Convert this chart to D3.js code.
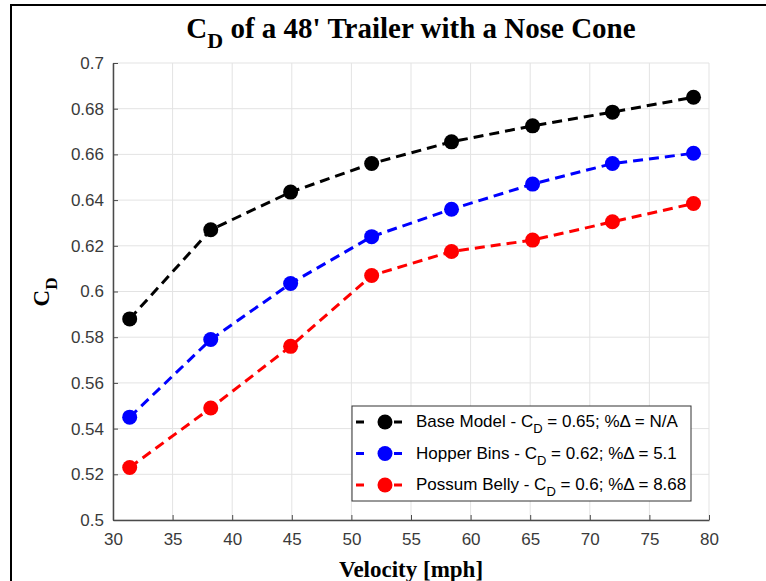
<!DOCTYPE html>
<html><head><meta charset="utf-8">
<script src="https://cdn.jsdelivr.net/npm/d3@7"></script>
<style>body{margin:0;background:#fff;} svg{display:block;}</style>
</head><body>
<script>
const velocity = [31.4, 38.2, 44.9, 51.7, 58.4, 65.2, 71.9, 78.7];
const baseModel = [0.588, 0.627, 0.6435, 0.656, 0.6655, 0.6725, 0.6785, 0.685];
const hopperBins = [0.545, 0.579, 0.6035, 0.624, 0.636, 0.647, 0.656, 0.6605];
const possumBelly = [0.523, 0.549, 0.576, 0.607, 0.6175, 0.6225, 0.6305, 0.6385];
const seriesNames = ["Base Model", "Hopper Bins", "Possum Belly"];
const legendCd = ["0.65", "0.62", "0.6"];
const legendPct = ["N/A", "5.1", "8.68"];
const seriesColors = ["#000000", "#0000ff", "#ff0000"];
const xTicks = [30, 35, 40, 45, 50, 55, 60, 65, 70, 75, 80];
const yTicks = [0.5, 0.52, 0.54, 0.56, 0.58, 0.6, 0.62, 0.64, 0.66, 0.68, 0.7];

const W = 766, H = 581;
const svg = d3.select("body").append("svg").attr("width", W).attr("height", H);
svg.append("rect").attr("width", W).attr("height", H).attr("fill", "#fff");
// figure border
svg.append("path").attr("d", `M11,${H} L11,5 L${W},5`).attr("fill", "none").attr("stroke", "#000").attr("stroke-width", 2);

const L = 113, R = 709, T = 63, B = 520;
const x = d3.scaleLinear().domain([30, 80]).range([L, R]);
const y = d3.scaleLinear().domain([0.5, 0.7]).range([B, T]);

// grid
const g = svg.append("g");
g.selectAll("line.gx").data(xTicks).join("line")
  .attr("x1", d => x(d)).attr("x2", d => x(d)).attr("y1", T).attr("y2", B)
  .attr("stroke", "#e3e3e3").attr("stroke-width", 1);
g.selectAll("line.gy").data(yTicks).join("line")
  .attr("x1", L).attr("x2", R).attr("y1", d => y(d)).attr("y2", d => y(d))
  .attr("stroke", "#e3e3e3").attr("stroke-width", 1);

// axes
const axisColor = "#4a4a4a";
const xAxis = svg.append("g").attr("transform", `translate(0,${B})`)
  .call(d3.axisBottom(x).tickValues(xTicks).tickFormat(d3.format("d")).tickSizeInner(-5).tickSizeOuter(0).tickPadding(13));
const yAxis = svg.append("g").attr("transform", `translate(${L},0)`)
  .call(d3.axisLeft(y).tickValues(yTicks).tickFormat(d => d3.format("")(+d.toFixed(2))).tickSizeInner(-5).tickSizeOuter(0).tickPadding(9));
[xAxis, yAxis].forEach(a => {
  a.select(".domain").attr("stroke", axisColor).attr("stroke-width", 1.5);
  a.selectAll(".tick line").attr("stroke", axisColor).attr("stroke-width", 1);
  a.selectAll("text").attr("fill", "#3a3a3a").style("font-family", "Liberation Sans, Arial, sans-serif").style("font-size", "17px");
});

// series
const allSeries = [baseModel, hopperBins, possumBelly];
const line = d3.line().x(d => x(d[0])).y(d => y(d[1]));
allSeries.forEach((vals, i) => {
  const pts = velocity.map((v, j) => [v, vals[j]]);
  svg.append("path").datum(pts).attr("d", line).attr("fill", "none")
    .attr("stroke", seriesColors[i]).attr("stroke-width", 3).attr("stroke-dasharray", "10,6");
  svg.selectAll(null).data(pts).join("circle")
    .attr("cx", d => x(d[0])).attr("cy", d => y(d[1])).attr("r", 7.5)
    .attr("fill", seriesColors[i]);
});

// title
const title = svg.append("text").attr("x", 411).attr("y", 38).attr("text-anchor", "middle")
  .style("font-family", "Liberation Serif, Times New Roman, serif").style("font-weight", "bold").style("font-size", "29px").attr("fill", "#000");
title.append("tspan").text("C");
title.append("tspan").attr("dy", 10).style("font-size", "22px").text("D");
title.append("tspan").attr("dy", -10).text(" of a 48' Trailer with a Nose Cone");

// x label
svg.append("text").attr("x", 411).attr("y", 577).attr("text-anchor", "middle")
  .style("font-family", "Liberation Serif, Times New Roman, serif").style("font-weight", "bold").style("font-size", "23px")
  .text("Velocity [mph]");

// y label
const yl = svg.append("text").attr("transform", "translate(49,292) rotate(-90)").attr("text-anchor", "middle")
  .style("font-family", "Liberation Serif, Times New Roman, serif").style("font-weight", "bold").style("font-size", "23px");
yl.append("tspan").text("C");
yl.append("tspan").attr("dy", 8).style("font-size", "17px").text("D");

// legend
const lg = svg.append("g");
lg.append("rect").attr("x", 352).attr("y", 406).attr("width", 339).attr("height", 95)
  .attr("fill", "#fff").attr("stroke", "#333").attr("stroke-width", 1);
seriesNames.forEach((name, i) => {
  const cy = 422 + i * 31.5;
  lg.append("line").attr("x1", 356).attr("x2", 408).attr("y1", cy).attr("y2", cy)
    .attr("stroke", seriesColors[i]).attr("stroke-width", 3).attr("stroke-dasharray", "8,15,0,15,8");
  lg.append("circle").attr("cx", 385).attr("cy", cy).attr("r", 7.5).attr("fill", seriesColors[i]);
  const t = lg.append("text").attr("x", 416).attr("y", cy + 5)
    .style("font-family", "Liberation Sans, Arial, sans-serif").style("font-size", "17px").attr("fill", "#000");
  t.append("tspan").text(`${name} - C`);
  t.append("tspan").attr("dy", 6).style("font-size", "13px").text("D");
  t.append("tspan").attr("dy", -6).text(` = ${legendCd[i]}; %\u0394 = ${legendPct[i]}`);
});
</script>
</body></html>
